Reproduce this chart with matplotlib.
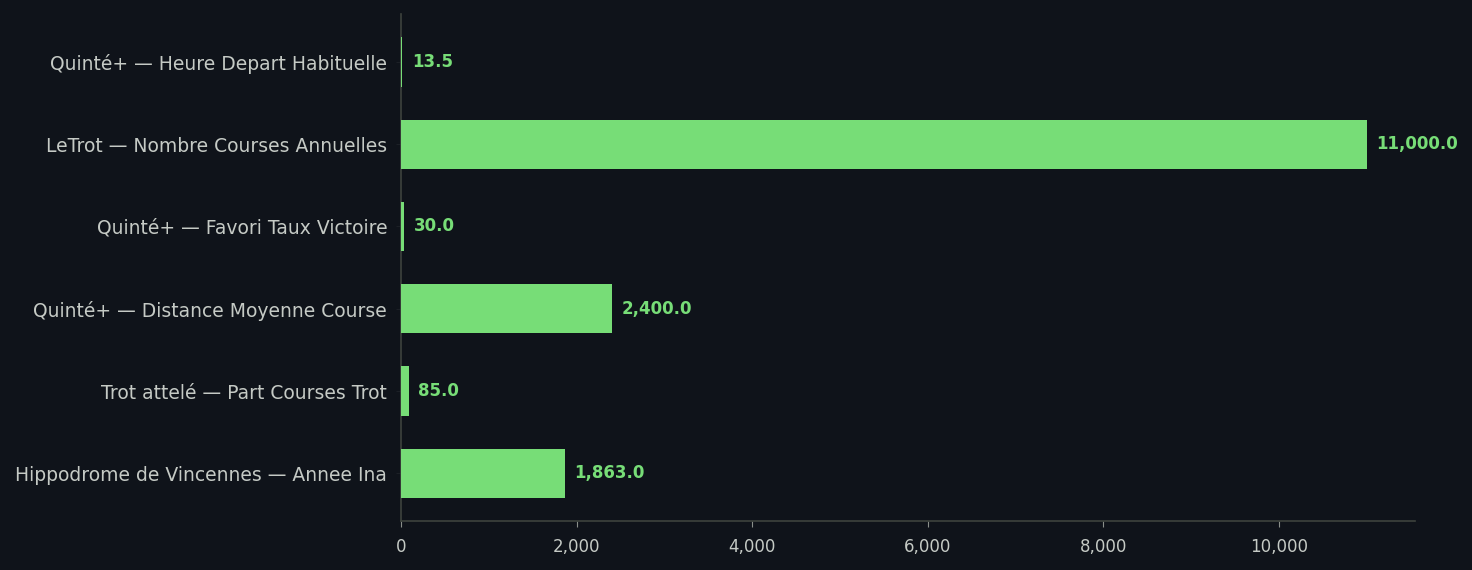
import matplotlib
matplotlib.use("Agg")
import matplotlib.pyplot as plt

# Data (top to bottom)
labels = [
    "Quinté+ — Heure Depart Habituelle",
    "LeTrot — Nombre Courses Annuelles",
    "Quinté+ — Favori Taux Victoire",
    "Quinté+ — Distance Moyenne Course",
    "Trot attelé — Part Courses Trot",
    "Hippodrome de Vincennes — Annee Ina",
]
values = [13.5, 11000.0, 30.0, 2400.0, 85.0, 1863.0]

bg = "#0f131a"
bar_color = "#77dd77"
text_color = "#c5cac5"
spine_color = "#3d433d"

fig, ax = plt.subplots(figsize=(14.72, 5.7), dpi=100)
fig.patch.set_facecolor(bg)
ax.set_facecolor(bg)

ypos = list(range(len(labels)))[::-1]
ax.barh(ypos, values, height=0.6, color=bar_color, zorder=3)

ax.set_yticks(ypos)
ax.set_yticklabels(labels, fontsize=13.5, color=text_color)
ax.set_xlim(0, max(values) * 1.05)
ax.xaxis.set_major_formatter(matplotlib.ticker.FuncFormatter(lambda v, p: f"{v:,.0f}"))
ax.tick_params(axis="x", colors=text_color, labelsize=12, length=4.5, pad=8)
ax.tick_params(axis="x", color="#8a8f8a")
ax.tick_params(axis="y", color="#1c2026", length=3.5, pad=6.5)

for spine in ["top", "right"]:
    ax.spines[spine].set_visible(False)
for spine in ["left", "bottom"]:
    ax.spines[spine].set_color(spine_color)
    ax.spines[spine].set_linewidth(1.2)

offset = max(values) * 0.01
for y, v in zip(ypos, values):
    ax.text(v + offset, y, f"{v:,.1f}", va="center", ha="left",
            fontsize=12, fontweight="bold", color=bar_color, zorder=4)

plt.subplots_adjust(left=0.2725, right=0.9613, top=0.975, bottom=0.086)
fig.savefig("out.png", dpi=100, facecolor=bg)
